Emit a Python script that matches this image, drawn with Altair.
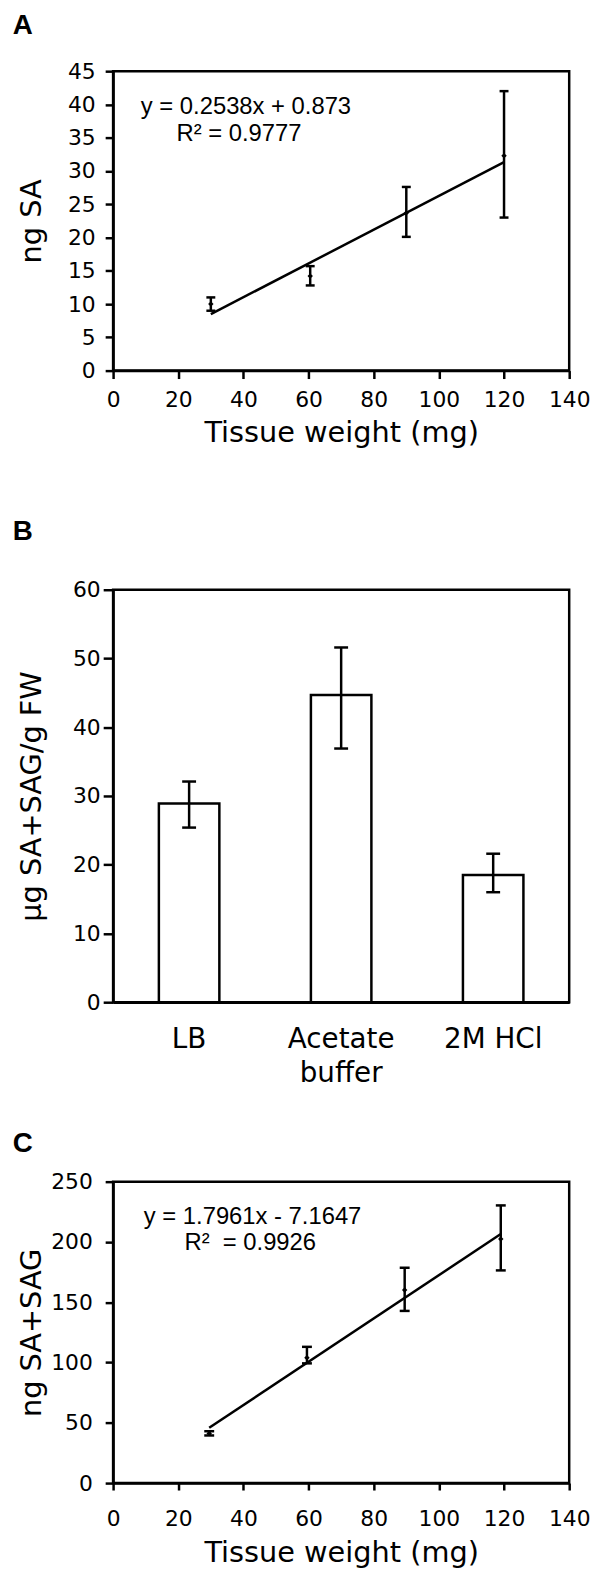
import altair as alt
import pandas as pd

# ---------------- data ----------------
# Panel A
a_weight = [30, 60.5, 90, 120]
a_sa = [10.0, 14.2, 23.7, 32.3]
a_low = [9.0, 12.8, 20.1, 23.0]
a_high = [11.0, 15.7, 27.6, 42.0]
a_fit = [0.2538, 0.873]          # slope, intercept shown on chart
a_eq = ["y = 0.2538x + 0.873", "R\u00b2 = 0.9777"]
a_yticks = list(range(0, 46, 5))

# Panel B
b_cat = ["LB", "Acetate\nbuffer", "2M HCl"]
b_val = [28.9, 44.7, 18.5]
b_low = [25.4, 36.9, 16.0]
b_high = [32.1, 51.6, 21.6]
b_yticks = list(range(0, 61, 10))

# Panel C
c_weight = [29.5, 59.5, 89.5, 119]
c_val = [41.2, 104.0, 160.2, 202.4]
c_low = [39.5, 99.3, 142.8, 176.4]
c_high = [43.0, 113.0, 178.6, 230.3]
c_fit = [1.7961, -7.1647]
c_eq = ["y = 1.7961x - 7.1647", "R\u00b2\u00a0\u00a0= 0.9926"]
c_yticks = list(range(0, 251, 50))

x_ticks = list(range(0, 141, 20))
letters = ["A", "B", "C"]

W = 460
LW = 2.5
EQ_FONT = "Liberation Sans"
LETTER_FONT = "Liberation Sans"


def text_layer(txt, x, y, size=24, font=EQ_FONT, weight="normal", align="left"):
    return alt.Chart(pd.DataFrame({"t": [txt]})).mark_text(
        font=font, fontSize=size, fontWeight=weight, align=align,
        baseline="middle", color="black"
    ).encode(text="t:N", x=alt.value(x), y=alt.value(y))


def spacer(x, y):
    # invisible point-like rule that fixes the layout bounds of a panel
    return alt.Chart(pd.DataFrame({"s": [0]})).mark_rule(
        strokeOpacity=0, strokeWidth=0).encode(
        x=alt.value(x), x2=alt.value(x + 1), y=alt.value(y))


def scatter_panel(wts, vals, lows, highs, fit, eq, letter, ydom, yticks, ytitle,
                  height, ytick_size, ylab_pad, xtick_size, xlab_pad, xtitle_y,
                  eq_pos, letter_y, cap, top_sp, bot_sp):
    df = pd.DataFrame({"w": wts, "v": vals, "lo": lows, "hi": highs})
    ln = pd.DataFrame({"w": [min(wts), max(wts)]})
    ln["v"] = fit[0] * ln["w"] + fit[1]

    xsc = alt.Scale(domain=[0, 140], nice=False)
    xax = alt.Axis(values=x_ticks, title="Tissue weight (mg)",
                   tickSize=xtick_size, labelPadding=xlab_pad,
                   labelFlush=False, titleX=W / 2, titleY=xtitle_y,
                   titleBaseline="middle", titleAlign="center")
    ysc = alt.Scale(domain=ydom, nice=False)
    yax = alt.Axis(values=yticks, title=ytitle, tickSize=ytick_size,
                   labelPadding=ylab_pad, titleX=-82, titleY=height / 2,
                   titleAngle=270, titleBaseline="middle", titleAlign="center")

    def X(f):
        return alt.X(f, scale=xsc, axis=xax)

    def Y(f):
        return alt.Y(f, scale=ysc, axis=yax)

    line = alt.Chart(ln).mark_line(color="black", strokeWidth=LW).encode(
        x=X("w:Q"), y=Y("v:Q"))
    err = alt.Chart(df).mark_rule(color="black", strokeWidth=LW).encode(
        x=X("w:Q"), y=Y("lo:Q"), y2="hi:Q")
    cap_lo = alt.Chart(df).mark_tick(color="black", orient="horizontal", size=cap,
                                     thickness=LW, opacity=1).encode(
        x=X("w:Q"), y=Y("lo:Q"))
    cap_hi = alt.Chart(df).mark_tick(color="black", orient="horizontal", size=cap,
                                     thickness=LW, opacity=1).encode(
        x=X("w:Q"), y=Y("hi:Q"))
    pts = alt.Chart(df).mark_point(shape="diamond", filled=True, size=30,
                                   color="black", opacity=1).encode(
        x=X("w:Q"), y=Y("v:Q"))
    layers = [line, err, cap_lo, cap_hi, pts,
              text_layer(eq[0], eq_pos[0], eq_pos[1]),
              text_layer(eq[1], eq_pos[2], eq_pos[3]),
              text_layer(letter, -91, letter_y, size=28, font=LETTER_FONT,
                         weight="bold", align="center"),
              spacer(-110, top_sp), spacer(-110, bot_sp)]
    return alt.layer(*layers).properties(width=W, height=height)


# plot tops wanted at 68 (A), 587 (B), 1180 (C)
panel_a = scatter_panel(a_weight, a_sa, a_low, a_high, a_fit, a_eq, letters[0],
                        [0, 45], a_yticks, "ng SA", 302, 8, 10, 8, 11, 62,
                        (28, 36, 64, 63), -45, 9, -80, 400)

# Panel B
bdf = pd.DataFrame({"cat": b_cat, "v": b_val, "lo": b_low, "hi": b_high})
bxsc = alt.Scale(paddingInner=0, paddingOuter=0)
bxax = alt.Axis(title=None, ticks=False, labelAngle=0, labelFontSize=28,
                labelPadding=24, labelLineHeight=34, labelBaseline="top",
                labelExpr="split(datum.label, '\\n')")
bysc = alt.Scale(domain=[0, 60], nice=False)
byax = alt.Axis(values=b_yticks, title="\u00b5g SA+SAG/g FW", tickSize=10,
                labelPadding=3, titleX=-82, titleY=208, titleAngle=270,
                titleBaseline="middle", titleAlign="center")


def BX():
    return alt.X("cat:N", sort=b_cat, scale=bxsc, axis=bxax)


def BY(f):
    return alt.Y(f, scale=bysc, axis=byax)


bars = alt.Chart(bdf).mark_bar(size=61, fill="white", stroke="black",
                               strokeWidth=LW).encode(x=BX(), y=BY("v:Q"))
b_err = alt.Chart(bdf).mark_rule(color="black", strokeWidth=LW).encode(
    x=BX(), y=BY("lo:Q"), y2="hi:Q")
b_cap_lo = alt.Chart(bdf).mark_tick(color="black", orient="horizontal", size=14,
                                    thickness=LW, opacity=1).encode(
    x=BX(), y=BY("lo:Q"))
b_cap_hi = alt.Chart(bdf).mark_tick(color="black", orient="horizontal", size=14,
                                    thickness=LW, opacity=1).encode(
    x=BX(), y=BY("hi:Q"))
panel_b = alt.layer(bars, b_err, b_cap_lo, b_cap_hi,
                    text_layer(letters[1], -91, -58, size=28, font=LETTER_FONT,
                               weight="bold", align="center"),
                    spacer(-110, -119), spacer(-110, 520)
                    ).properties(width=W, height=416)

panel_c = scatter_panel(c_weight, c_val, c_low, c_high, c_fit, c_eq, letters[2],
                        [0, 250], c_yticks, "ng SA+SAG", 304, 8, 13, 7, 19, 70,
                        (31, 36, 72, 62), -38, 10, -73, 110)

chart = alt.vconcat(panel_a, panel_b, panel_c, spacing=0).properties(
    padding={"left": -6, "top": -25, "right": 0, "bottom": 0}
).configure_view(stroke="black", strokeWidth=LW).configure_axis(
    grid=False, domainColor="black", domainWidth=LW, tickColor="black",
    tickWidth=LW, labelColor="black", titleColor="black",
    labelFont="DejaVu Sans", labelFontSize=22, titleFont="DejaVu Sans",
    titleFontSize=29, titleFontWeight="normal"
)

chart.save("out.html", embed_options={"renderer": "svg", "actions": False})
